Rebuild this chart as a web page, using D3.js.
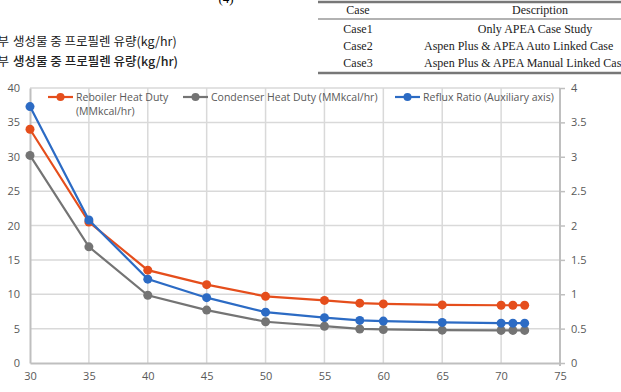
<!DOCTYPE html>
<html>
<head>
<meta charset="utf-8">
<script src="https://cdn.jsdelivr.net/npm/d3@7"></script>
<style>
  body { margin: 0; background: #fff; }
  svg { display: block; }
</style>
</head>
<body>
<div id="chart"></div>
<script>
// Data
const refluxPct = [30, 35, 40, 45, 50, 55, 58, 60, 65, 70, 71, 72];
const reboilerDuty = [34.0, 20.5, 13.5, 11.4, 9.7, 9.1, 8.7, 8.6, 8.45, 8.4, 8.4, 8.4];
const condenserDuty = [30.2, 16.9, 9.85, 7.7, 6.0, 5.35, 4.95, 4.88, 4.78, 4.74, 4.74, 4.74];
const refluxRatio = [3.73, 2.08, 1.22, 0.95, 0.74, 0.66, 0.62, 0.61, 0.59, 0.58, 0.58, 0.58];

const xTicks = [30, 35, 40, 45, 50, 55, 60, 65, 70, 75];
const yLeftTicks = [0, 5, 10, 15, 20, 25, 30, 35, 40];
const yRightTicks = [0, 0.5, 1, 1.5, 2, 2.5, 3, 3.5, 4];

const tableHeader = ["Case", "Description"];
const tableRows = [
  ["Case1", "Only APEA Case Study"],
  ["Case2", "Aspen Plus & APEA Auto Linked Case"],
  ["Case3", "Aspen Plus & APEA Manual Linked Case"]
];
const koreanLines = [
  ["상부", "생성물 중 프로필렌 유량(kg/hr)"],
  ["하부", "생성물 중 프로필렌 유량(kg/hr)"]
];

const W = 621, H = 392;
const svg = d3.select("#chart").append("svg")
  .attr("width", W).attr("height", H);

// ---- surrounding document text ----
const serif = "'Liberation Serif', 'Times New Roman', serif";
svg.append("text")
  .attr("x", 226).attr("y", 3)
  .attr("text-anchor", "middle")
  .style("font-family", serif).style("font-size", "13px")
  .text("(4)");

koreanLines.forEach((l, i) => {
  const y = 46 + i * 19.5;
  svg.append("text")
    .attr("x", 9).attr("y", y)
    .attr("text-anchor", "end")
    .style("font-family", "'Noto Sans CJK KR', sans-serif")
    .style("font-size", "12.5px").style("fill", "#222")
    .text(l[0]);
  svg.append("text")
    .attr("x", 13).attr("y", y)
    .style("font-family", "'Noto Sans CJK KR', sans-serif")
    .style("font-size", "12.5px").style("fill", "#222")
    .style("font-weight", i === 1 ? "500" : "400")
    .text(l[1]);
});

// table
const tbl = svg.append("g");
tbl.append("line").attr("x1", 318).attr("x2", W).attr("y1", 2).attr("y2", 2)
  .attr("stroke", "#777").attr("stroke-width", 2.5);
tbl.append("line").attr("x1", 318).attr("x2", W).attr("y1", 19).attr("y2", 19)
  .attr("stroke", "#999").attr("stroke-width", 1.5);
tbl.append("line").attr("x1", 318).attr("x2", W).attr("y1", 73).attr("y2", 73)
  .attr("stroke", "#777").attr("stroke-width", 2.5);

const colX = [358, 540];
tableHeader.forEach((t, i) => {
  tbl.append("text").attr("x", colX[i]).attr("y", 14)
    .attr("text-anchor", "middle")
    .style("font-family", serif).style("font-size", "12px").style("fill", "#222")
    .text(t);
});
tableRows.forEach((r, j) => {
  r.forEach((t, i) => {
    tbl.append("text")
      .attr("x", i === 0 ? colX[0] : (j === 0 ? 535 : 424))
      .attr("y", 33 + j * 17)
      .attr("text-anchor", i === 0 ? "middle" : (j === 0 ? "middle" : "start"))
      .style("font-family", serif).style("font-size", "12px").style("fill", "#222")
      .text(t);
  });
});

// ---- chart ----
const plot = {left: 30, right: 560, top: 88, bottom: 363};

const x = d3.scaleLinear().domain([30, 75]).range([plot.left, plot.right]);
const yL = d3.scaleLinear().domain([0, 40]).range([plot.bottom, plot.top]);
const yR = d3.scaleLinear().domain([0, 4]).range([plot.bottom, plot.top]);

const font = "'Open Sans', 'Noto Sans', sans-serif";
const gridColor = "#d9d9d9";
const axisColor = "#bfbfbf";
const labelColor = "#595959";

// gridlines
svg.append("g")
  .selectAll("line").data(xTicks.slice(1, -1)).join("line")
  .attr("x1", d => x(d)).attr("x2", d => x(d))
  .attr("y1", plot.top).attr("y2", plot.bottom)
  .attr("stroke", gridColor).attr("stroke-width", 1.5);
svg.append("g")
  .selectAll("line").data(yLeftTicks.slice(1)).join("line")
  .attr("x1", plot.left).attr("x2", plot.right)
  .attr("y1", d => yL(d)).attr("y2", d => yL(d))
  .attr("stroke", gridColor).attr("stroke-width", 1.5);

// axes
const xAxis = svg.append("g")
  .attr("transform", `translate(0,${plot.bottom})`)
  .call(d3.axisBottom(x).tickValues(xTicks).tickSize(0).tickPadding(9));
const yAxisL = svg.append("g")
  .attr("transform", `translate(${plot.left},0)`)
  .call(d3.axisLeft(yL).tickValues(yLeftTicks).tickSize(0).tickPadding(10));
const yAxisR = svg.append("g")
  .attr("transform", `translate(${plot.right},0)`)
  .call(d3.axisRight(yR).tickValues(yRightTicks).tickFormat(d3.format("")).tickSize(5).tickPadding(6));

[xAxis, yAxisL, yAxisR].forEach(g => {
  g.select(".domain").attr("stroke", axisColor).attr("stroke-width", 2);
  g.selectAll(".tick line").attr("stroke", axisColor).attr("stroke-width", 1.5);
  g.selectAll(".tick text")
    .style("font-family", font).style("font-size", "11px").attr("fill", labelColor);
});
yAxisR.select(".domain").attr("d", `M0,${plot.top}V${plot.bottom + 3}`);

// series
const series = [
  {name: "Reboiler Heat Duty", name2: "(MMkcal/hr)", values: reboilerDuty, y: yL, color: "#e54e1c"},
  {name: "Condenser Heat Duty (MMkcal/hr)", values: condenserDuty, y: yL, color: "#747474"},
  {name: "Reflux Ratio (Auxiliary axis)", values: refluxRatio, y: yR, color: "#2c6bc4"}
];

series.forEach(s => {
  const pts = refluxPct.map((d, i) => [d, s.values[i]]);
  const line = d3.line().x(d => x(d[0])).y(d => s.y(d[1]));
  svg.append("path").datum(pts)
    .attr("fill", "none").attr("stroke", s.color).attr("stroke-width", 2.2)
    .attr("d", line);
  svg.append("g").selectAll("circle").data(pts).join("circle")
    .attr("cx", d => x(d[0])).attr("cy", d => s.y(d[1]))
    .attr("r", 4.5).attr("fill", s.color);
});

// legend
const legendPos = [48, 183, 395];
series.forEach((s, i) => {
  const lx = legendPos[i], ly = 97;
  svg.append("line").attr("x1", lx).attr("x2", lx + 25).attr("y1", ly).attr("y2", ly)
    .attr("stroke", s.color).attr("stroke-width", 2.2);
  svg.append("circle").attr("cx", lx + 12.5).attr("cy", ly).attr("r", 4).attr("fill", s.color);
  svg.append("text").attr("x", lx + 28).attr("y", ly + 4)
    .style("font-family", font).style("font-size", "10.5px").attr("fill", labelColor)
    .text(s.name);
  if (s.name2) {
    svg.append("text").attr("x", lx + 28).attr("y", ly + 18)
      .style("font-family", font).style("font-size", "10.5px").attr("fill", labelColor)
      .text(s.name2);
  }
});
</script>
</body>
</html>
